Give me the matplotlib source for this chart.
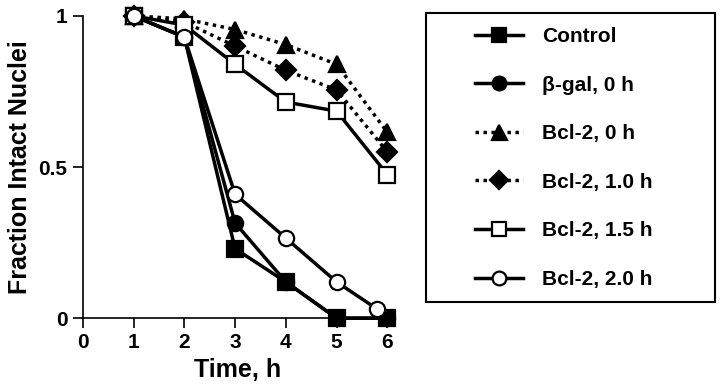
import matplotlib.pyplot as plt
from matplotlib.patches import Rectangle

plt.rcParams['font.family'] = ['Liberation Sans', 'DejaVu Sans']
plt.rcParams['font.weight'] = 'bold'

# data
times = [1, 2, 3, 4, 5, 6]
control = [1.0, 0.93, 0.23, 0.12, 0.0, 0.0]
bgal_0 = [1.0, 0.93, 0.315, 0.12, 0.0, 0.0]
bcl2_0 = [1.0, 0.99, 0.955, 0.905, 0.84, 0.615]
bcl2_10 = [1.0, 0.98, 0.90, 0.82, 0.755, 0.55]
bcl2_15 = [1.0, 0.97, 0.84, 0.715, 0.685, 0.475]
times_20 = [1, 2, 3, 4, 5, 5.8]
bcl2_20 = [1.0, 0.93, 0.41, 0.265, 0.12, 0.03]

series = [
    ("Control", times, control, 's', 'k', '-'),
    ("\u03b2-gal, 0 h", times, bgal_0, 'o', 'k', '-'),
    ("Bcl-2, 0 h", times, bcl2_0, '^', 'k', (0, (1, 1.3))),
    ("Bcl-2, 1.0 h", times, bcl2_10, 'D', 'k', (0, (1, 1.3))),
    ("Bcl-2, 1.5 h", times, bcl2_15, 's', 'w', '-'),
    ("Bcl-2, 2.0 h", times_20, bcl2_20, 'o', 'w', '-'),
]
sizes = {'s': 11, 'o': 11, '^': 12, 'D': 10}

fig = plt.figure(figsize=(7.2, 3.88), dpi=100)
ax = fig.add_axes([0.115, 0.18, 0.43, 0.779])

handles = []
for label, x, y, m, fc, ls in series:
    h, = ax.plot(x, y, linestyle=ls, color='k', lw=2.5, marker=m,
                 markersize=sizes[m], markerfacecolor=fc, markeredgecolor='k',
                 markeredgewidth=1.6, clip_on=False, label=label)
    handles.append(h)

ax.set_xlim(0, 6.1)
ax.set_ylim(0, 1)
ax.set_xticks([0, 1, 2, 3, 4, 5, 6])
ax.set_yticks([0, 0.5, 1])
ax.set_yticklabels(["0", "0.5", "1"])
ax.spines['top'].set_visible(False)
ax.spines['right'].set_visible(False)
ax.spines['left'].set_linewidth(1.2)
ax.spines['bottom'].set_linewidth(1.2)
ax.tick_params(direction='out', length=7, width=1.2, labelsize=15, pad=4)
for t in ax.get_xticklabels() + ax.get_yticklabels():
    t.set_fontweight('bold')
ax.set_xlabel("Time, h", fontsize=18, fontweight='bold', labelpad=4)
ax.set_ylabel("Fraction Intact Nuclei", fontsize=18, fontweight='bold', labelpad=5)

# legend box
fig.patches.append(Rectangle((426 / 720, 1 - 302 / 388), 289 / 720, 289 / 388,
                             transform=fig.transFigure, fill=False,
                             edgecolor='k', linewidth=1.5))
leg = fig.legend(handles=handles, loc='upper left',
                 bbox_to_anchor=(475 / 720, 1 - 27 / 388), frameon=False,
                 borderpad=0, borderaxespad=0, handlelength=2.3,
                 handletextpad=0.9, labelspacing=1.42, markerscale=0.9,
                 prop={'size': 15, 'weight': 'bold'})

fig.savefig("out.png", dpi=100)
